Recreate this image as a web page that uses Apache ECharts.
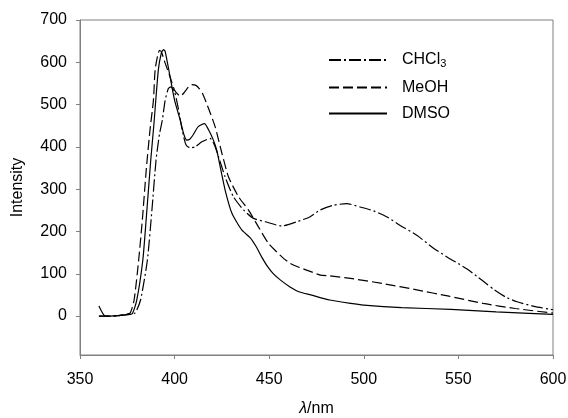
<!DOCTYPE html>
<html>
<head>
<meta charset="utf-8">
<script src="https://cdn.jsdelivr.net/npm/echarts@6/dist/echarts.min.js"></script>
<style>
  html, body { margin: 0; padding: 0; background: #fff; }
  #chart { width: 568px; height: 418px; }
</style>
</head>
<body>
<div id="chart"></div>
<script>
// 波长 / 强度
var chcl3Wl = [360, 366, 370, 374, 379, 382, 385.6, 388, 390.2, 392, 393.5, 395, 396.7, 398, 400, 402, 404, 406, 408, 410.8, 414.4, 418.8, 421, 423.2, 426.7, 431.1, 436.4, 441.7, 447.9, 456.7, 464.6, 471.7, 477, 484, 491, 498, 505, 512, 519, 528, 537, 545, 550, 555, 560, 565, 569, 575, 581, 590, 600];
var chcl3Int = [0, 0, 1, 3, 7, 38, 132, 250, 369, 430, 463, 510, 538, 542, 530, 490, 440, 405, 398, 400, 412, 420, 405, 377, 329, 282, 251, 231, 223, 213, 223, 235, 251, 262, 266, 258, 249, 235, 215, 191, 160, 137, 124, 110, 93, 76, 62, 45, 34, 23, 15];

var meohWl = [360, 366, 370, 374, 376.5, 378.6, 381, 383, 385, 387, 388.8, 389.7, 391, 392, 393, 395, 397.6, 400, 403, 405, 407, 409, 411, 413, 415, 418, 421.4, 425, 428.5, 433.8, 439, 444.3, 449.6, 456.7, 461, 466, 472, 477, 482, 493, 510, 528, 545, 563, 580, 600];
var meohInt = [0, 0, 1, 4, 7, 38, 132, 230, 345, 440, 510, 582, 615, 628, 625, 598, 566, 534, 520, 528, 540, 547, 546, 538, 524, 490, 448, 385, 329, 282, 251, 211, 172, 140, 125, 115, 105, 97, 95, 89, 77, 62, 47, 30, 18, 7];

var dmsoWl = [360, 363, 366, 370, 374, 377.5, 380, 383.2, 385, 387.4, 389, 391.4, 393, 394.1, 395, 397.6, 400, 403, 405, 406.4, 408, 410, 412.5, 415.8, 418, 420.5, 422.3, 424.1, 426.7, 430.3, 435.6, 440, 443, 446, 449, 452, 456, 461, 466, 472, 482, 493, 500, 520, 546, 570, 600];
var dmsoInt = [24, 1, 0, 1, 3, 5, 38, 132, 230, 369, 450, 582, 622, 630, 626, 566, 510, 463, 428, 416, 418, 430, 448, 455, 440, 416, 392, 353, 298, 243, 203, 185, 165, 140, 118, 101, 85, 69, 57, 50, 38, 30, 26, 20, 16, 10, 4];

var xTicks = [350, 400, 450, 500, 550, 600];
var yTicks = [0, 100, 200, 300, 400, 500, 600, 700];

var zip = function(xs, ys) {
    return xs.map(function(x, i) { return [x, ys[i]]; });
};

var axisGray = '#808080',
    fontFam = '"Liberation Sans", Arial, sans-serif';

var chart = echarts.init(document.getElementById('chart'), null, { renderer: 'canvas' });

var mkSeries = function(name, data, dash) {
    return {
        name: name,
        type: 'line',
        data: data,
        symbol: 'none',
        smooth: 0.2,
        animation: false,
        itemStyle: { color: '#000' },
        lineStyle: { color: '#000', width: 1.2, type: dash }
    };
};

chart.setOption({
    backgroundColor: '#fff',
    textStyle: { fontFamily: fontFam },
    grid: {
        left: 80, right: 15, top: 20, bottom: 63,
        outerBoundsMode: 'none',
        containLabel: false,
        show: true, borderColor: axisGray, borderWidth: 1
    },
    legend: {
        orient: 'vertical',
        left: 328,
        top: 52,
        itemWidth: 58,
        itemHeight: 14,
        itemGap: 10,
        padding: 0,
        data: ['CHCl3', 'MeOH', 'DMSO'],
        itemStyle: { opacity: 0 },
        formatter: function(name) {
            return name === 'CHCl3' ? 'CHCl{sub|3}' : name;
        },
        textStyle: {
            fontSize: 16,
            color: '#000',
            fontFamily: fontFam,
            padding: [0, 0, 0, 10],
            rich: {
                sub: { fontSize: 11, verticalAlign: 'bottom', padding: [8, 0, 0, 0], fontFamily: fontFam }
            }
        }
    },
    xAxis: {
        type: 'value',
        min: 350,
        max: 600,
        interval: 50,
        name: '{i|λ}/nm',
        nameLocation: 'middle',
        nameGap: 46,
        nameTextStyle: {
            fontSize: 16, color: '#000', fontFamily: fontFam,
            rich: { i: { fontSize: 16, fontStyle: 'italic', fontFamily: fontFam, color: '#000' } }
        },
        axisLine: { onZero: false, lineStyle: { color: axisGray, width: 1 } },
        axisTick: { show: true, length: 4, lineStyle: { color: axisGray } },
        axisLabel: { fontSize: 16, color: '#000', margin: 17, customValues: xTicks },
        splitLine: { show: false }
    },
    yAxis: {
        type: 'value',
        min: -92,
        max: 700,
        name: 'Intensity',
        nameLocation: 'middle',
        nameGap: 54,
        nameTextStyle: { fontSize: 16, color: '#000', fontFamily: fontFam },
        axisLine: { show: true, onZero: false, lineStyle: { color: axisGray, width: 1 } },
        axisTick: { show: true, length: 4, lineStyle: { color: axisGray }, customValues: yTicks },
        axisLabel: { fontSize: 16, color: '#000', margin: 13, customValues: yTicks },
        splitLine: { show: false }
    },
    series: [
        mkSeries('CHCl3', zip(chcl3Wl, chcl3Int), [12, 3, 2, 3]),
        mkSeries('MeOH', zip(meohWl, meohInt), [10, 4]),
        mkSeries('DMSO', zip(dmsoWl, dmsoInt), 'solid')
    ]
});
</script>
</body>
</html>
